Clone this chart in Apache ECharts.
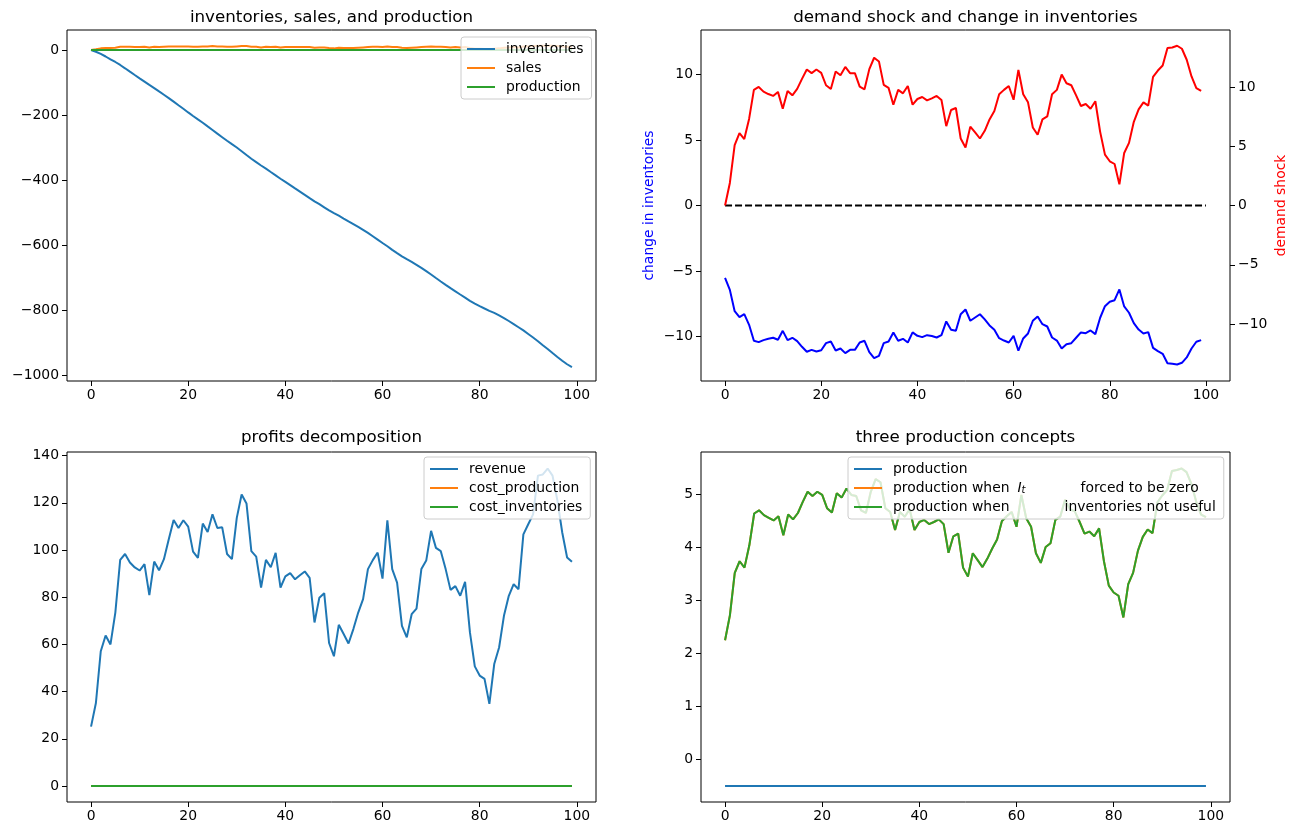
<!DOCTYPE html>
<html>
<head>
<meta charset="utf-8">
<script src="https://cdn.jsdelivr.net/npm/echarts@6/dist/echarts.min.js"></script>
<style>
  html, body { margin: 0; padding: 0; background: #fff; }
  #chart { width: 1297px; height: 834px; }
</style>
</head>
<body>
<div id="chart"></div>
<script>
// periods
const periods = Array.from({ length: 100 }, (_, i) => i);
const periodsZero = Array.from({ length: 101 }, (_, i) => i);

// top left
const inventories = [0, -5.5, -12.0, -20.0, -28.5, -36.9, -46.0, -56.3, -66.7, -77.0,
  -87.2, -97.3, -107.5, -117.1, -127.4, -137.5, -147.9, -158.7, -169.8, -180.8,
  -192.0, -203.0, -213.5, -223.9, -235.0, -245.9, -257.2, -268.2, -279.2, -289.7,
  -300.0, -311.2, -322.8, -334.3, -344.8, -355.2, -364.9, -375.2, -385.4, -395.9,
  -405.6, -415.5, -425.6, -435.5, -445.5, -455.6, -465.5, -474.3, -483.8, -493.4,
  -501.7, -509.6, -518.4, -527.0, -535.3, -544.0, -553.1, -562.6, -572.8, -583.1,
  -593.5, -603.5, -614.6, -624.7, -634.5, -643.3, -651.8, -660.8, -670.1, -680.1,
  -690.5, -701.4, -712.0, -722.5, -732.6, -742.3, -752.0, -761.6, -771.4, -780.0,
  -787.7, -795.0, -802.2, -808.6, -816.3, -824.5, -833.5, -843.0, -852.7, -862.4,
  -873.3, -884.4, -895.7, -907.8, -919.8, -932.0, -944.0, -955.6, -966.5, -975.0];
const sales = [0, 2, 5, 6, 6, 7, 10, 10, 10, 9, 9, 10, 8, 10, 9, 10, 11, 11, 11, 11,
  11, 10, 10, 11, 11, 12, 11, 11, 10, 10, 11, 12, 12, 10, 10, 8, 10, 9, 10, 8,
  9, 9, 9, 9, 9, 9, 7, 8, 8, 6, 5, 7, 6, 6, 6, 7, 8, 9, 10, 10,
  9, 11, 9, 9, 7, 6, 7, 8, 9, 10, 11, 10, 10, 9, 8, 9, 8, 9, 6, 4,
  4, 3, 2, 4, 5, 7, 8, 9, 8, 11, 11, 12, 13, 13, 13, 13, 12, 11, 10, 10];
const productionFlat = Array(100).fill(0);

// top right
const changeInventories = [-5.52, -6.44, -8.07, -8.52, -8.3, -9.11, -10.33, -10.43, -10.28, -10.18,
  -10.1, -10.25, -9.57, -10.28, -10.1, -10.36, -10.79, -11.17, -11.02, -11.15,
  -11.05, -10.51, -10.38, -11.07, -10.92, -11.27, -11.02, -11.02, -10.46, -10.33,
  -11.2, -11.65, -11.48, -10.51, -10.38, -9.69, -10.33, -10.18, -10.46, -9.69,
  -9.95, -10.05, -9.9, -9.97, -10.08, -9.9, -8.85, -9.49, -9.57, -8.3,
  -7.94, -8.8, -8.55, -8.3, -8.7, -9.16, -9.49, -10.13, -10.31, -10.46,
  -9.95, -11.09, -10.15, -9.77, -8.8, -8.47, -9.06, -9.24, -10.08, -10.31,
  -10.92, -10.59, -10.51, -10.1, -9.69, -9.75, -9.54, -9.82, -8.57, -7.69,
  -7.35, -7.23, -6.41, -7.71, -8.19, -8.98, -9.47, -9.77, -9.67, -10.87,
  -11.12, -11.32, -12.04, -12.09, -12.14, -12.01, -11.6, -10.92, -10.4, -10.28];
const demandShock = [0, 1.9, 5.1, 6.1, 5.6, 7.3, 9.75, 10.0, 9.6, 9.4,
  9.24, 9.58, 8.16, 9.66, 9.29, 9.83, 10.68, 11.47, 11.16, 11.47,
  11.19, 10.14, 9.83, 11.3, 10.99, 11.69, 11.16, 11.16, 10.03, 9.8,
  11.5, 12.46, 12.15, 10.17, 9.92, 8.5, 9.75, 9.46, 10.08, 8.5,
  8.98, 9.15, 8.87, 9.04, 9.24, 8.9, 6.69, 8.05, 8.22, 5.65,
  4.89, 6.65, 6.16, 5.65, 6.3, 7.26, 7.97, 9.38, 9.75, 10.08,
  8.92, 11.44, 9.38, 8.7, 6.58, 5.96, 7.26, 7.51, 9.38, 9.75,
  11.04, 10.31, 10.14, 9.29, 8.39, 8.56, 8.16, 8.79, 6.21, 4.29,
  3.73, 3.5, 1.78, 4.43, 5.28, 7.06, 8.11, 8.7, 8.42, 10.85,
  11.38, 11.81, 13.28, 13.33, 13.47, 13.22, 12.29, 10.88, 9.89, 9.66];
const zeroLine = Array(101).fill(0);

// bottom left
const revenue = [25.2, 35.2, 57.1, 63.8, 60.0, 73.5, 95.8, 98.3, 94.7, 92.6,
  91.3, 94.0, 80.9, 95.1, 91.4, 96.1, 104.5, 112.7, 109.3, 112.6,
  109.9, 99.3, 96.7, 111.2, 107.6, 115.1, 109.3, 109.6, 98.3, 96.1,
  113.6, 123.5, 119.7, 99.5, 97.2, 84.1, 95.8, 92.7, 98.8, 84.1,
  88.8, 90.2, 87.6, 89.3, 90.9, 88.2, 69.3, 79.8, 81.7, 60.6,
  55.0, 68.3, 64.4, 60.4, 66.5, 73.5, 79.2, 91.9, 95.7, 98.9,
  87.9, 112.6, 91.9, 86.2, 67.9, 63.0, 72.8, 75.2, 91.9, 95.5,
  108.1, 100.9, 99.5, 91.9, 83.1, 84.7, 80.6, 86.5, 65.1, 50.7,
  46.8, 45.4, 34.8, 51.7, 58.7, 72.1, 80.6, 85.5, 83.4, 106.6,
  110.9, 115.1, 131.5, 132.0, 134.5, 131.5, 121.0, 107.4, 96.8, 95.0];
const costProduction = Array(100).fill(0);
const costInventories = Array(100).fill(0);

// bottom right
const productionBase = Array(100).fill(-0.5);
const productionNoInv = [2.25, 2.72, 3.52, 3.74, 3.62, 4.04, 4.64, 4.70, 4.61, 4.56,
  4.51, 4.59, 4.23, 4.62, 4.53, 4.65, 4.86, 5.05, 4.97, 5.05,
  4.99, 4.74, 4.66, 5.02, 4.94, 5.11, 4.99, 4.97, 4.70, 4.65,
  5.05, 5.29, 5.23, 4.74, 4.67, 4.33, 4.67, 4.58, 4.72, 4.33,
  4.48, 4.52, 4.44, 4.48, 4.53, 4.44, 3.90, 4.21, 4.26, 3.62,
  3.45, 3.89, 3.76, 3.63, 3.79, 3.98, 4.15, 4.50, 4.59, 4.67,
  4.39, 4.99, 4.55, 4.39, 3.89, 3.71, 4.01, 4.08, 4.52, 4.58,
  4.90, 4.72, 4.68, 4.48, 4.26, 4.30, 4.21, 4.36, 3.74, 3.28,
  3.15, 3.09, 2.68, 3.31, 3.52, 3.94, 4.20, 4.34, 4.27, 4.85,
  4.98, 5.08, 5.44, 5.46, 5.49, 5.42, 5.20, 4.86, 4.62, 4.57];
const productionZeroInv = productionNoInv.slice();

const xTicks = [0, 20, 40, 60, 80, 100];
const ticksTL = [0, -200, -400, -600, -800, -1000];
const ticksTRLeft = [-10, -5, 0, 5, 10];
const ticksTRRight = [-10, -5, 0, 5, 10];
const ticksBL = [0, 20, 40, 60, 80, 100, 120, 140];
const ticksBR = [0, 1, 2, 3, 4, 5];

const FONT = 'DejaVu Sans';
const TICK_FS = 13.9;
const C_BLUE = '#1f77b4', C_ORANGE = '#ff7f0e', C_GREEN = '#2ca02c';

const minus = v => String(v).replace('-', '\u2212');
const pairs = (xs, ys) => ys.map((v, i) => [xs[i], v]);

function xAxis(gridIndex, min, max) {
  return {
    type: 'value', gridIndex, min, max,
    axisLine: { show: false, onZero: false },
    axisTick: { show: true, length: 5, customValues: xTicks, lineStyle: { color: '#000', width: 1 } },
    axisLabel: { customValues: xTicks, color: '#000', fontSize: TICK_FS, fontFamily: FONT, margin: 7, formatter: minus },
    splitLine: { show: false }
  };
}

function yAxis(gridIndex, min, max, ticks, extra) {
  return Object.assign({
    type: 'value', gridIndex, min, max,
    axisLine: { show: false, onZero: false },
    axisTick: { show: true, length: 5, customValues: ticks, lineStyle: { color: '#000', width: 1 } },
    axisLabel: { customValues: ticks, color: '#000', fontSize: TICK_FS, fontFamily: FONT, margin: 8, formatter: minus },
    splitLine: { show: false }
  }, extra || {});
}

function line(name, xi, yi, xs, ys, color, extra) {
  return Object.assign({
    name, type: 'line', xAxisIndex: xi, yAxisIndex: yi,
    data: pairs(xs, ys), showSymbol: false, symbol: 'none',
    lineStyle: { color, width: 2 }, itemStyle: { color },
    animation: false, silent: true
  }, extra || {});
}

function legendBox(left, top, items) {
  return {
    orient: 'vertical', left, top, selectedMode: false,
    icon: 'rect', itemWidth: 28, itemHeight: 2, itemGap: 5,
    padding: [5, 8, 5, 6],
    backgroundColor: 'rgba(255,255,255,0.8)', borderColor: '#cccccc', borderWidth: 1, borderRadius: 3,
    itemStyle: { borderWidth: 0 },
    textStyle: {
      fontFamily: FONT, fontSize: TICK_FS, color: '#000',
      rich: {
        p: { width: 6, fontSize: TICK_FS, fontFamily: FONT },
        t: { fontSize: TICK_FS, fontFamily: FONT, color: '#000' },
        i: { fontSize: TICK_FS, fontFamily: FONT, fontStyle: 'italic', color: '#000' },
        s: { fontSize: 10, fontFamily: FONT, fontStyle: 'italic', color: '#000', verticalAlign: 'bottom' },
        g1: { width: 8, fontSize: TICK_FS },
        g2: { width: 55, fontSize: TICK_FS },
        g3: { width: 55, fontSize: TICK_FS }
      }
    },
    formatter: name => {
      if (name === 'production when It forced to be zero') {
        return '{p| }{t|production when}{g1| }{i|I}{s|t}{g2| }{t|forced to be zero}';
      }
      if (name === 'production when inventories not useful') {
        return '{p| }{t|production when}{g3| }{t|inventories not useful}';
      }
      return '{p| }{t|' + name + '}';
    },
    data: items
  };
}

function title(text, cx, top) {
  return {
    text, left: cx, top, textAlign: 'center', padding: 0,
    textStyle: { fontFamily: FONT, fontSize: 16.7, fontWeight: 'normal', color: '#000' }
  };
}

const gridBase = { show: true, borderColor: '#000', borderWidth: 1, backgroundColor: '#fff', containLabel: false };

const option = {
  backgroundColor: '#fff',
  animation: false,
  title: [
    title('inventories, sales, and production', 331.5, 9),
    title('demand shock and change in inventories', 965.5, 9),
    title('profits decomposition', 331.5, 429),
    title('three production concepts', 965.5, 429)
  ],
  grid: [
    Object.assign({ left: 67, top: 30, width: 529, height: 351 }, gridBase),
    Object.assign({ left: 701, top: 30, width: 529, height: 351 }, gridBase),
    Object.assign({ left: 67, top: 452, width: 529, height: 350 }, gridBase),
    Object.assign({ left: 701, top: 452, width: 529, height: 350 }, gridBase)
  ],
  xAxis: [
    xAxis(0, -4.95, 103.95),
    xAxis(1, -5, 105),
    xAxis(2, -4.95, 103.95),
    xAxis(3, -4.95, 103.95)
  ],
  yAxis: [
    yAxis(0, -1018, 61.5, ticksTL),
    yAxis(1, -13.4, 13.4, ticksTRLeft, {
      position: 'left', name: 'change in inventories', nameLocation: 'middle', nameGap: 45, nameRotate: 90,
      nameTextStyle: { color: '#0000ff', fontFamily: FONT, fontSize: TICK_FS }
    }),
    yAxis(1, -14.8, 14.8, ticksTRRight, {
      position: 'right', name: 'demand shock', nameLocation: 'middle', nameGap: 44, nameRotate: 90,
      nameTextStyle: { color: '#ff0000', fontFamily: FONT, fontSize: TICK_FS }
    }),
    yAxis(2, -6.74, 141.5, ticksBL),
    yAxis(3, -0.8, 5.8, ticksBR)
  ],
  legend: [
    legendBox(461, 37, [
      { name: 'inventories', itemStyle: { color: C_BLUE } },
      { name: 'sales', itemStyle: { color: C_ORANGE } },
      { name: 'production', itemStyle: { color: C_GREEN } }
    ]),
    legendBox(424, 457, [
      { name: 'revenue', itemStyle: { color: C_BLUE } },
      { name: 'cost_production', itemStyle: { color: C_ORANGE } },
      { name: 'cost_inventories', itemStyle: { color: C_GREEN } }
    ]),
    legendBox(848, 457, [
      { name: 'production', itemStyle: { color: C_BLUE } },
      { name: 'production when It forced to be zero', itemStyle: { color: C_ORANGE } },
      { name: 'production when inventories not useful', itemStyle: { color: C_GREEN } }
    ])
  ],
  series: [
    line('inventories', 0, 0, periods, inventories, C_BLUE),
    line('sales', 0, 0, periods, sales, C_ORANGE),
    line('production', 0, 0, periods, productionFlat, C_GREEN),

    line('change in inventories', 1, 1, periods, changeInventories, '#0000ff'),
    line('zero', 1, 1, periodsZero, zeroLine, '#000000', { lineStyle: { color: '#000', width: 2, type: [7, 3] } }),
    line('demand shock', 1, 2, periods, demandShock, '#ff0000'),

    line('revenue', 2, 3, periods, revenue, C_BLUE),
    line('cost_production', 2, 3, periods, costProduction, C_ORANGE),
    line('cost_inventories', 2, 3, periods, costInventories, C_GREEN),

    line('production', 3, 4, periods, productionBase, C_BLUE),
    line('production when It forced to be zero', 3, 4, periods, productionZeroInv, C_ORANGE),
    line('production when inventories not useful', 3, 4, periods, productionNoInv, C_GREEN)
  ]
};

const chart = echarts.init(document.getElementById('chart'), null, { renderer: 'canvas' });
chart.setOption(option);
window.addEventListener('resize', () => chart.resize());
</script>
</body>
</html>
